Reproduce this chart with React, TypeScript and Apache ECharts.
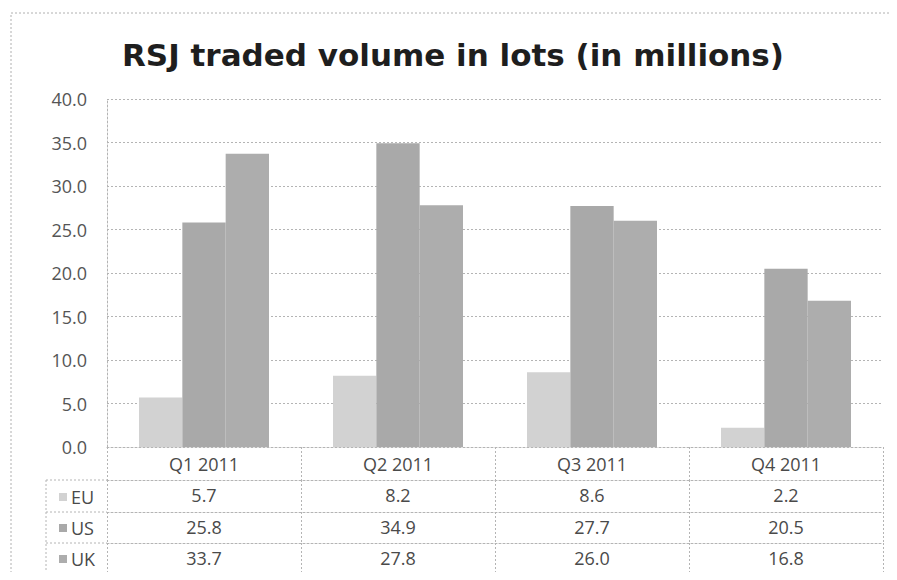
import React, { useEffect, useRef } from "react";
import * as echarts from "echarts";

const categories = ["Q1 2011", "Q2 2011", "Q3 2011", "Q4 2011"];
const euValues = [5.7, 8.2, 8.6, 2.2];
const usValues = [25.8, 34.9, 27.7, 20.5];
const ukValues = [33.7, 27.8, 26.0, 16.8];
const seriesNames = ["EU", "US", "UK"];
const yMin = 0;
const yMax = 40;
const yInterval = 5;

const FONT = "Open Sans";
const GRID_COLOR = "#b4b4b4";
const TEXT_COLOR = "#4a4a4a";
const COLORS = ["#d2d2d2", "#a9a9a9", "#adadad"];

export default function App() {
  const ref = useRef<HTMLDivElement>(null);
  useEffect(() => {
    if (!ref.current) return;
    const chart = echarts.init(ref.current, undefined, { renderer: "svg" });
    const rows = [euValues, usValues, ukValues];
    const dotted = { color: GRID_COLOR, width: 1, type: [2, 2] as any };
    const axisY = 447;
    const rowLines = [480, 512, 543, 573];
    const baseAxis = {
      type: "category" as const,
      data: categories,
      position: "bottom" as const,
      gridIndex: 0,
      boundaryGap: true,
      axisLine: { show: true, lineStyle: dotted },
      splitLine: { show: false },
    };
    const xAxes: any[] = [
      {
        ...baseAxis,
        offset: 0,
        axisTick: { show: true, interval: 0, length: rowLines[0] - axisY, lineStyle: dotted },
        axisLabel: { show: true, interval: 0, margin: 8, fontSize: 18, color: TEXT_COLOR, fontFamily: FONT },
      },
    ];
    rows.forEach((vals, r) => {
      xAxes.push({
        ...baseAxis,
        offset: rowLines[r] - axisY,
        axisTick: { show: true, interval: 0, length: rowLines[r + 1] - rowLines[r], lineStyle: dotted },
        axisLabel: {
          show: true,
          interval: 0,
          margin: 6,
          fontSize: 18,
          color: TEXT_COLOR,
          fontFamily: FONT,
          formatter: (_v: string, i: number) => vals[i].toFixed(1),
        },
      });
    });
    xAxes.push({
      ...baseAxis,
      offset: rowLines[3] - axisY,
      axisTick: { show: false },
      axisLabel: { show: false },
    });

    const legendLines: any[] = rowLines.map((y) => ({
      type: "line",
      shape: { x1: 46, y1: y, x2: 107, y2: y },
      style: { stroke: GRID_COLOR, lineWidth: 1, lineDash: [2, 2] },
      silent: true,
    }));
    legendLines.push({
      type: "line",
      shape: { x1: 46, y1: rowLines[0], x2: 46, y2: rowLines[3] },
      style: { stroke: GRID_COLOR, lineWidth: 1, lineDash: [2, 2] },
      silent: true,
    });

    chart.setOption({
      animation: false,
      backgroundColor: "#ffffff",
      title: {
        text: "RSJ traded volume in lots (in millions)",
        left: 448,
        top: 34,
        textAlign: "center",
        textStyle: { fontFamily: "DejaVu Sans", fontWeight: "bold", fontSize: 31, color: "#1e1e1e" },
      },
      grid: { left: 107, right: 14, top: 99, bottom: 580 - axisY, containLabel: false },
      legend: {
        orient: "vertical",
        left: 54,
        top: 483,
        itemWidth: 8,
        itemHeight: 8,
        itemGap: 13,
        icon: "rect",
        selectedMode: false,
        data: seriesNames,
        textStyle: { fontFamily: FONT, fontSize: 18, color: TEXT_COLOR, lineHeight: 18, padding: [0, 0, 0, -1] },
      },
      xAxis: xAxes,
      yAxis: {
        type: "value",
        min: yMin,
        max: yMax,
        interval: yInterval,
        axisLine: { show: true, lineStyle: dotted },
        axisTick: { show: false },
        splitLine: { show: true, lineStyle: dotted },
        axisLabel: {
          margin: 20,
          fontSize: 18,
          color: "#555555",
          fontFamily: FONT,
          formatter: (v: number) => v.toFixed(1),
        },
      },
      series: [euValues, usValues, ukValues].map((vals, i) => ({
        name: seriesNames[i],
        type: "bar",
        xAxisIndex: 0,
        data: vals,
        barGap: "0%",
        barCategoryGap: "33%",
        itemStyle: { color: COLORS[i] },
      })),
      graphic: [
        {
          type: "rect",
          shape: { x: 11, y: 13, width: 1000, height: 1000 },
          style: { fill: "none", stroke: "#b0b0b0", lineWidth: 1, lineDash: [2, 2] },
          silent: true,
          z: -1,
        },
        ...legendLines,
      ],
    });
    return () => chart.dispose();
  }, []);
  return <div ref={ref} style={{ width: 897, height: 580, margin: -8 }} />;
}
